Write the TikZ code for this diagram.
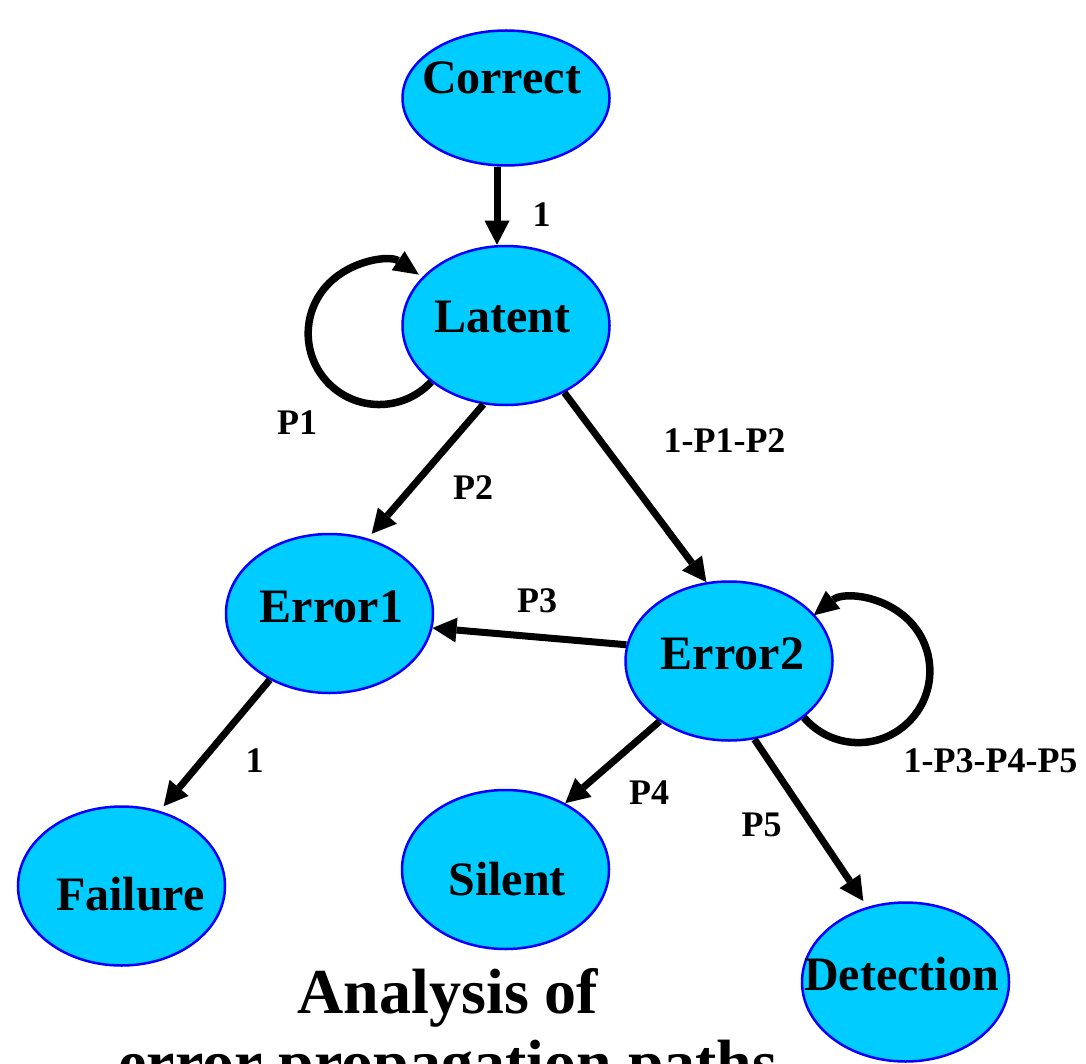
\documentclass[tikz,border=0pt]{standalone}
\usepackage{fontspec}
\setmainfont{Liberation Serif}
\usetikzlibrary{arrows.meta,shapes.geometric}
\definecolor{statefill}{HTML}{00CCFF}
\definecolor{stateline}{HTML}{0000FF}
\begin{document}
\begin{tikzpicture}[x=1pt,y=-1pt,
  state/.style={ellipse, draw=stateline, line width=2.5pt, fill=statefill,
    minimum width=207pt, minimum height=159pt, inner sep=0pt},
  statetext/.style={anchor=base, inner sep=0pt, font=\fontsize{48}{56}\selectfont\bfseries},
  edgelabel/.style={anchor=base, inner sep=0pt, font=\fontsize{36}{42}\selectfont\bfseries},
  flow/.style={line width=7pt, -{Triangle[length=24pt,width=25pt,line width=0pt]}},
  selfloop/.style={line width=7.5pt, -{Triangle[length=25pt,width=23pt,line width=0pt]}},
  titletext/.style={anchor=base, inner sep=0pt, font=\fontsize{64}{70}\selectfont\bfseries}]

\useasboundingbox (0,0) rectangle (1086,1064);
\clip (0,0) rectangle (1086,1064);

% states
\node[state, minimum height=135pt] (cor) at (506,98) {};
\node[state] (lat) at (506,325.5) {};
\node[state] (e1)  at (329.5,613.5) {};
\node[state] (e2)  at (729,661) {};
\node[state] (fail) at (121.5,886) {};
\node[state] (sil) at (505.5,869.5) {};
\node[state] (det) at (905.5,982) {};

% state names
\node[statetext] (cor-t)  at (501.5,94)  {Correct};
\node[statetext] (lat-t)  at (502.5,333) {Latent};
\node[statetext] (e1-t)   at (331.5,622) {Error1};
\node[statetext] (e2-t)   at (732.5,669) {Error2};
\node[statetext] (fail-t) at (130.5,910) {Failure};
\node[statetext] (sil-t)  at (507,895)   {Silent};
\node[statetext] (det-t)  at (901.5,990) {Detection};

% transitions
\draw[flow] ([xshift=-9pt]cor.south) -- ([xshift=-9pt]lat.north);
\draw[flow, shorten >=6pt] (lat.254) -- (e1.63.3);
\draw[flow] (lat.-49.2) -- (e2.106.7);
\draw[flow] (e2.171.8) -- (e1.-8.9);
\draw[flow, shorten >=6pt] (e1.228.3) -- (fail.63.4);
\draw[flow] (e2.221.6) -- (sil.48.3);
\draw[flow, shorten >=7pt] (e2.-72.2) -- (det.117.1);

% self loops
\draw[selfloop] (lat.217) arc[start angle=43, end angle=304, radius=71];
\draw[selfloop] (e2.-37.5) arc[start angle=139.6, end angle=-128.8, radius=71.5];

% probabilities
\node[edgelabel] (l-cl)  at (541.5,227) {1};
\node[edgelabel] (l-ll)  at (297,434)   {P1};
\node[edgelabel] (l-le1) at (473,499)   {P2};
\node[edgelabel] (l-le2) at (724.5,452) {1-P1-P2};
\node[edgelabel] (l-ee)  at (537,612)   {P3};
\node[edgelabel] (l-e2e2) at (990.5,772) {1-P3-P4-P5};
\node[edgelabel] (l-ef)  at (254.5,772) {1};
\node[edgelabel] (l-es)  at (649,804)   {P4};
\node[edgelabel] (l-ed)  at (761.5,836) {P5};

% caption
\node[titletext] (cap1) at (448,1013) {Analysis of};
\node[titletext] (cap2) at (448,1084) {error propagation paths};
\end{tikzpicture}
\end{document}
